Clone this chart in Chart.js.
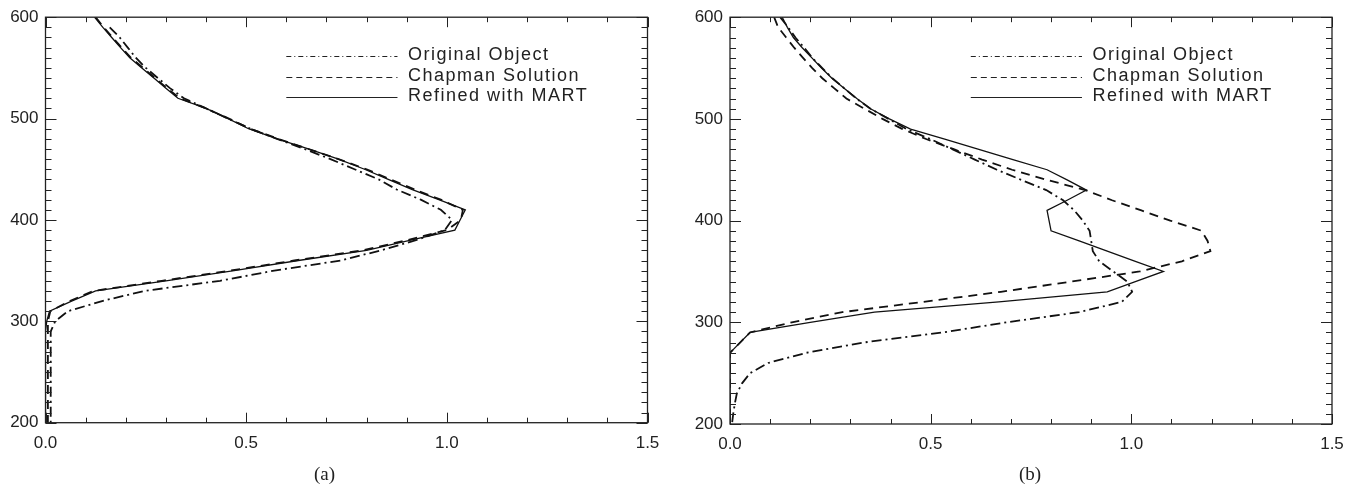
<!DOCTYPE html>
<html>
<head>
<meta charset="utf-8">
<script src="https://cdn.jsdelivr.net/npm/chart.js@4.4.0/dist/chart.umd.min.js"></script>
<style>
  html, body { margin: 0; padding: 0; background: #fff; }
  body { width: 1354px; height: 491px; position: relative; overflow: hidden; }
  canvas { position: absolute; top: 0; }
  .tag { position: absolute; top: 463px; font: 19px "Liberation Serif", "Times New Roman", serif; color: #222; line-height: 22px; }
</style>
</head>
<body>
<canvas id="chartA" width="677" height="491" style="left:0"></canvas>
<canvas id="chartB" width="677" height="491" style="left:677px"></canvas>
<div class="tag" style="left:314px">(a)</div>
<div class="tag" style="left:1019px">(b)</div>
<script>
// altitude grid, top to bottom
const altitudes = [600, 590, 580, 570, 560, 550, 540, 530, 520, 510, 500,
                   490, 480, 470, 460, 450, 440, 430, 420, 410, 400,
                   390, 380, 370, 360, 350, 340, 330, 320, 310, 300,
                   290, 280, 270, 260, 250, 240, 230, 220, 210, 200];

// panel (a)
const originalA = [null, 0.160, 0.185, 0.205, 0.225, 0.250, 0.280, 0.310, 0.345, 0.400, 0.455,
                   0.510, 0.577, 0.645, 0.710, 0.770, 0.830, 0.875, 0.935, 0.985, 1.013,
                   0.995, 0.923, 0.836, 0.735, 0.570, 0.435, 0.247, 0.141, 0.056, 0.024,
                   0.013, 0.013, 0.013, 0.013, 0.013, 0.013, 0.013, 0.013, 0.013, 0.013];
const chapmanA = [0.125, 0.145, 0.167, 0.190, 0.213, 0.243, 0.273, 0.303, 0.335, 0.400, 0.457,
                  0.510, 0.580, 0.655, 0.730, 0.800, 0.860, 0.920, 0.985, 1.040, 1.035,
                  1.000, 0.900, 0.790, 0.620, 0.460, 0.290, 0.120, 0.060, 0.012, 0.006,
                  0.006, 0.006, 0.006, 0.006, 0.006, 0.006, 0.006, 0.006, 0.006, 0.006];
const refinedA = [0.122, 0.143, 0.165, 0.187, 0.210, 0.240, 0.270, 0.300, 0.330, 0.400, 0.455,
                  0.506, 0.577, 0.655, 0.730, 0.795, 0.854, 0.914, 0.980, 1.046, 1.033,
                  1.020, 0.910, 0.800, 0.630, 0.470, 0.300, 0.125, 0.065, 0.010, 0.003,
                  0, 0, 0, 0, 0, 0, 0, 0, 0, 0];

// panel (b)
const originalB = [0.125, 0.145, 0.163, 0.185, 0.205, 0.230, 0.255, 0.285, 0.315, 0.350, 0.395,
                   0.440, 0.500, 0.555, 0.610, 0.665, 0.726, 0.788, 0.830, 0.858, 0.879,
                   0.896, 0.900, 0.904, 0.920, 0.955, 0.990, 1.002, 0.976, 0.870, 0.690,
                   0.530, 0.330, 0.190, 0.095, 0.050, 0.030, 0.017, 0.012, 0.008, 0.005];
const chapmanB = [0.110, 0.120, 0.140, 0.160, 0.182, 0.205, 0.230, 0.260, 0.290, 0.335, 0.380,
                  0.430, 0.490, 0.559, 0.628, 0.703, 0.790, 0.885, 0.952, 1.025, 1.097,
                  1.175, 1.190, 1.197, 1.126, 1.021, 0.850, 0.675, 0.480, 0.280, 0.154,
                  0.050, 0.025, 0, 0, 0, 0, 0, 0, 0, 0];
const refinedB = [0.130, 0.143, 0.158, 0.180, 0.204, 0.228, 0.254, 0.285, 0.316, 0.350, 0.397,
                  0.450, 0.535, 0.620, 0.705, 0.790, 0.840, 0.888, 0.840, 0.790, 0.795,
                  0.800, 0.870, 0.940, 1.010, 1.080, 1.010, 0.940, 0.670, 0.360, 0.200,
                  0.050, 0.025, 0, 0, 0, 0, 0, 0, 0, 0];

const legendLabels = ["Original Object", "Chapman Solution", "Refined with MART"];

const lineDash = [[10, 4, 2, 4], [9, 6], []];
const lineWidth = [1.8, 1.8, 1.3];
const legendDash = [[5, 3, 1, 3], [6, 4], []];
const tickFont = { family: "'Liberation Sans', Arial, sans-serif", size: 17 };

// box, inward ticks on all four sides, legend inside the plot
const framePlugin = {
    id: "frame",
    afterDraw(chart) {
        const { ctx, chartArea: a, scales: { x, y } } = chart;
        ctx.save();
        ctx.strokeStyle = "#222";
        ctx.lineWidth = 1.3;
        ctx.setLineDash([]);
        ctx.strokeRect(a.left, a.top, a.right - a.left, a.bottom - a.top);

        ctx.lineWidth = 1;
        ctx.beginPath();
        for (let v = 0; v <= 150; v += 10) {
            const px = Math.round(x.getPixelForValue(v / 100)) + 0.5;
            const len = v % 50 === 0 ? 10 : 5;
            ctx.moveTo(px, a.bottom); ctx.lineTo(px, a.bottom - len);
            ctx.moveTo(px, a.top); ctx.lineTo(px, a.top + len);
        }
        for (let v = 200; v <= 600; v += 10) {
            const py = Math.round(y.getPixelForValue(v)) + 0.5;
            const len = v % 100 === 0 ? 11 : 6;
            ctx.moveTo(a.left, py); ctx.lineTo(a.left + len, py);
            ctx.moveTo(a.right, py); ctx.lineTo(a.right - len, py);
        }
        ctx.stroke();

        const x0 = x.getPixelForValue(0.6);
        const x1 = x.getPixelForValue(0.877);
        const xt = x.getPixelForValue(0.903);
        ctx.font = "18px 'Liberation Sans', Arial, sans-serif";
        ctx.letterSpacing = "1.5px";
        ctx.textBaseline = "middle";
        ctx.fillStyle = "#222";
        legendLabels.forEach((label, i) => {
            const ly = Math.round(a.top + 39 + 20.5 * i) + 0.5;
            ctx.setLineDash(legendDash[i]);
            ctx.lineWidth = 1.2;
            ctx.beginPath();
            ctx.moveTo(x0, ly);
            ctx.lineTo(x1, ly);
            ctx.stroke();
            ctx.fillText(label, xt, ly - 1);
        });
        ctx.restore();
    }
};

function makeChart(canvasId, series, box) {
    return new Chart(document.getElementById(canvasId), {
        type: "scatter",
        data: {
            datasets: series.map((vals, i) => ({
                label: legendLabels[i],
                data: altitudes.map((alt, k) => ({ x: vals[k], y: alt })).filter(p => p.x !== null),
                showLine: true,
                pointRadius: 0,
                borderColor: "#111",
                borderDash: lineDash[i],
                borderWidth: lineWidth[i],
                tension: 0,
                fill: false
            }))
        },
        options: {
            responsive: false,
            animation: false,
            layout: { padding: { top: box.top, right: box.right, left: 0, bottom: 0 } },
            plugins: { legend: { display: false }, tooltip: { enabled: false } },
            scales: {
                x: {
                    type: "linear", min: 0, max: 1.5,
                    afterFit: s => { s.height = box.bottom; },
                    grid: { display: false, drawTicks: false },
                    border: { display: false },
                    ticks: { stepSize: 0.5, padding: 10, font: tickFont, color: "#222",
                             maxRotation: 0, callback: v => v.toFixed(1) }
                },
                y: {
                    type: "linear", min: 200, max: 600,
                    afterFit: s => { s.width = box.left; },
                    grid: { display: false, drawTicks: false },
                    border: { display: false },
                    ticks: { stepSize: 100, padding: 7, font: tickFont, color: "#222" }
                }
            }
        },
        plugins: [framePlugin]
    });
}

makeChart("chartA", [originalA, chapmanA, refinedA], { left: 45.5, right: 29.5, top: 11, bottom: 68.3 });
makeChart("chartB", [originalB, chapmanB, refinedB], { left: 53, right: 22, top: 12.5, bottom: 67 });
</script>
</body>
</html>
